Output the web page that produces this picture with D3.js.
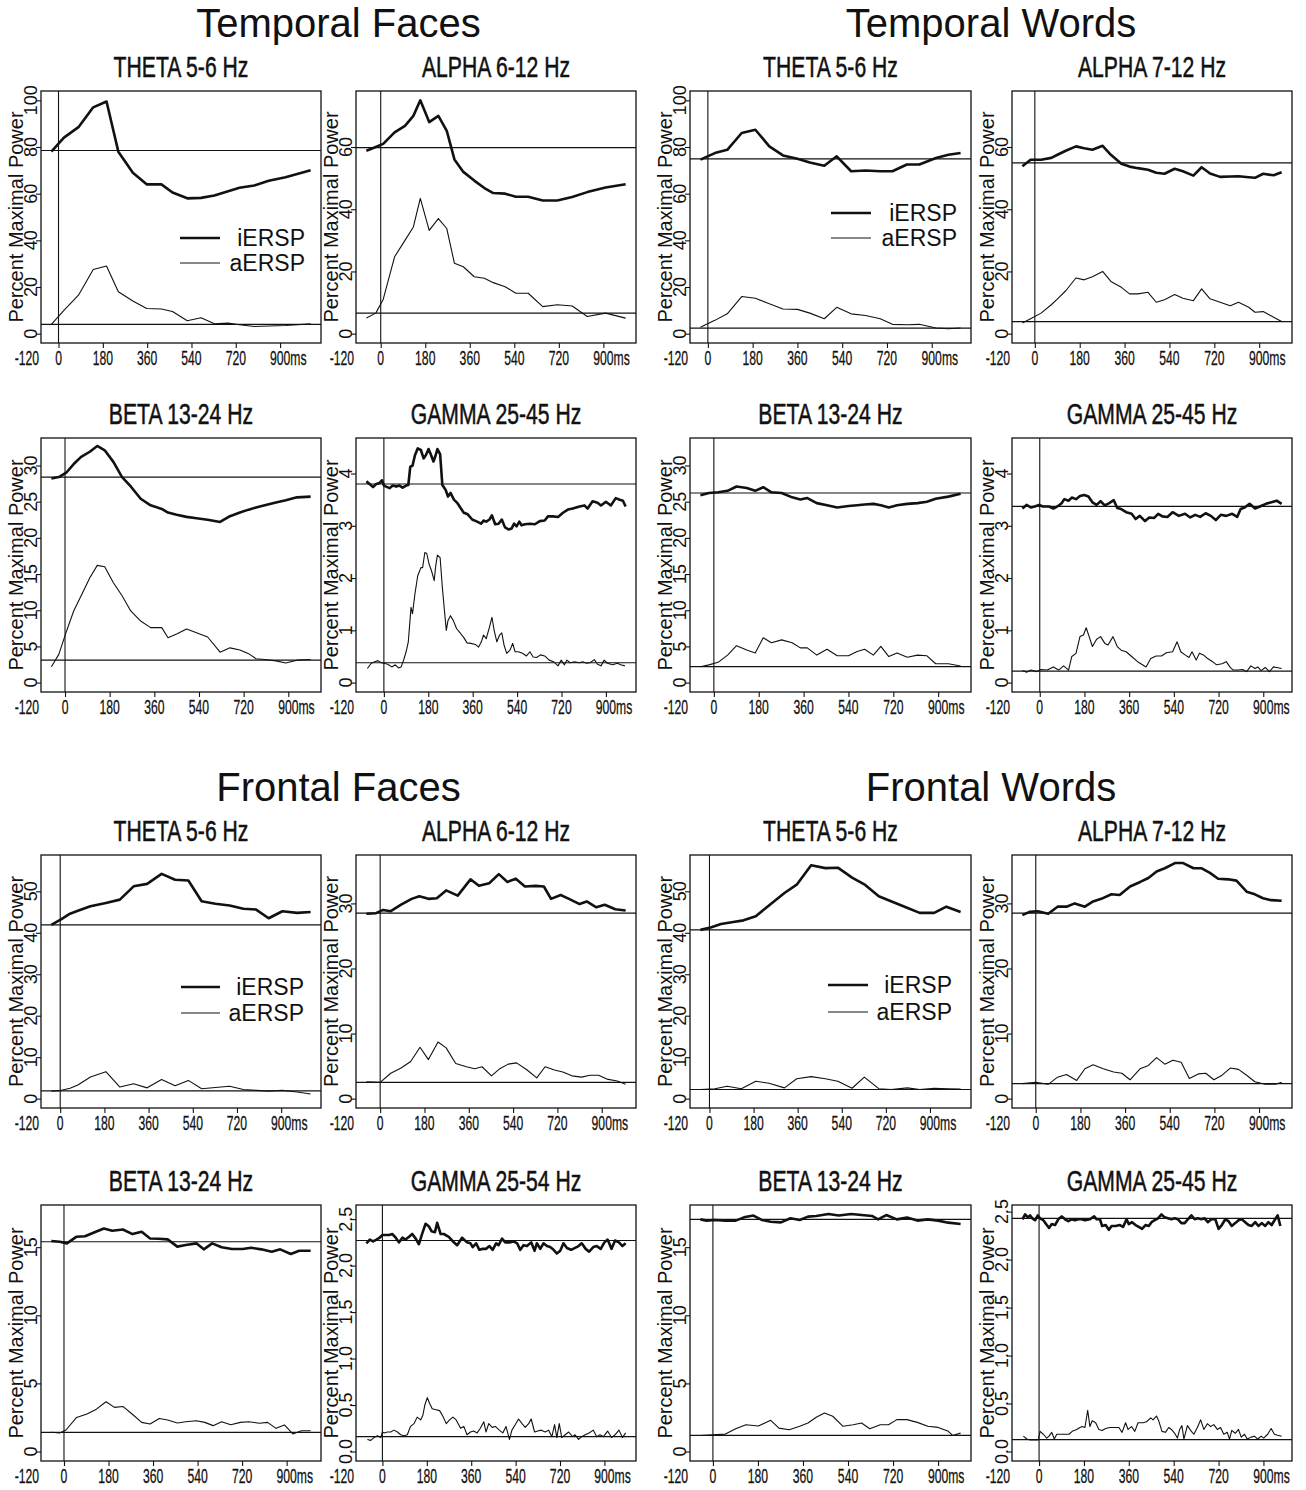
<!DOCTYPE html>
<html lang="en">
<head>
<meta charset="utf-8">
<title>iERSP / aERSP - Temporal and Frontal</title>
<script src="https://cdn.jsdelivr.net/npm/d3@7"></script>
<style>
  body { margin: 0; background: #fff; }
  svg text { font-family: "Liberation Sans", Arial, Helvetica, sans-serif; fill: #111; }
</style>
</head>
<body>
<script>

//Width and height
var w = 1306;
var h = 1490;

//Time axis labels (ms)
var xTickVals = [0, 180, 360, 540, 720, 900];
var xLabelVals = [-120, 0, 180, 360, 540, 720, 900];

//Temporal Faces - THETA
var tfThetaT = [-29, 22, 81, 141, 195, 243, 302, 358, 418, 463, 523, 579, 633, 689, 735, 795, 854, 922, 1024];
var tfThetaI = [78, 84, 88.5, 97, 99.5, 78, 69, 64, 64, 60.5, 58, 58.2, 59.2, 61, 62.5, 63.5, 65.5, 67, 70];
var tfThetaA = [4, 10, 16.5, 27.5, 29, 18, 14, 10.8, 10.6, 9.5, 5.5, 6.8, 4.2, 4.5, 3.8, 3.1, 3.3, 3.5, 4.2];
var tfThetaBase = [78.5, 4];

//Temporal Faces - ALPHA
var tfAlphaT = [-58, -20, 10, 56, 98, 132, 160, 196, 233, 267, 298, 334, 378, 419, 455, 503, 546, 596, 655, 714, 774, 835, 909, 990];
var tfAlphaI = [58.8, 60, 61, 64.7, 66.8, 70, 75, 68, 70, 65.2, 56, 52, 49.2, 46.8, 45.2, 45, 44, 44, 42.8, 42.8, 43.9, 45.5, 47, 48];
var tfAlphaA = [5, 6.6, 11, 24.7, 30, 34.3, 43.5, 33.2, 37, 33.8, 22.6, 21.5, 18.3, 17.8, 16.4, 15.1, 13, 13, 8.7, 9.3, 8.9, 5.5, 6.6, 5];
var tfAlphaBase = [59.8, 6.6];

//Temporal Words - THETA
var twThetaT = [-30, 28, 78, 136, 191, 247, 302, 360, 410, 468, 518, 576, 634, 693, 742, 800, 850, 917, 967, 1016];
var twThetaI = [74.6, 77.4, 78.8, 86, 87.4, 80.3, 76.4, 75, 73.4, 72, 76, 69.6, 69.9, 69.6, 69.6, 72.5, 72.5, 75.3, 76.7, 77.4];
var twThetaA = [2.8, 5.7, 8.5, 15.9, 15.2, 12.8, 10.6, 10.4, 8.8, 6.4, 11.3, 8.5, 7.8, 6.4, 4, 3.8, 4, 2.4, 2.1, 2.4];
var twThetaBase = [74.9, 2.4];

//Temporal Words - ALPHA
var twAlphaT = [-50, -17, 25, 66, 91, 124, 165, 198, 231, 272, 305, 347, 380, 413, 454, 487, 520, 561, 594, 636, 669, 703, 743, 784, 817, 858, 883, 916, 958, 990];
var twAlphaI = [53.8, 55.9, 55.9, 56.5, 57.5, 58.8, 60.2, 59.6, 59.1, 60.4, 57.5, 54.6, 53.7, 53.2, 52.7, 51.7, 51.4, 53, 52.2, 50.8, 53.5, 51.5, 50.4, 50.5, 50.6, 50.3, 50.1, 51.4, 50.9, 51.9];
var twAlphaA = [3.4, 4.8, 6.6, 9.3, 11.2, 13.8, 17.9, 17.3, 18.3, 20, 16.8, 14.9, 12.8, 12.8, 13.3, 10.1, 10.9, 12.6, 11.4, 10.6, 14.4, 11.2, 10.1, 9, 10.1, 8.5, 6.9, 7.1, 5.3, 3.9];
var twAlphaBase = [54.9, 3.9];

//Temporal Faces - BETA
var tfBetaT = [-55, -25, 5, 35, 65, 100, 130, 160, 195, 230, 265, 305, 345, 390, 415, 450, 490, 530, 575, 625, 665, 705, 740, 770, 805, 850, 890, 935, 990];
var tfBetaI = [28.2, 28.4, 29, 30.2, 31.2, 31.9, 32.7, 32.1, 30.5, 28.4, 27.1, 25.4, 24.5, 24, 23.5, 23.2, 22.9, 22.7, 22.5, 22.2, 23, 23.5, 23.9, 24.2, 24.5, 24.9, 25.2, 25.6, 25.7];
var tfBetaA = [2.2, 3.9, 7, 9.9, 12, 14.5, 16.2, 16, 13.8, 12, 9.9, 8.5, 7.6, 7.6, 6.2, 6.7, 7.4, 6.9, 6.3, 4.2, 4.8, 4.5, 4, 3.3, 3.2, 3, 2.7, 3.1, 3.2];
var tfBetaBase = [28.4, 3.1];

//Temporal Faces - GAMMA
var tfGammaIT = [-71,-58,-44,-31,-17,-8,0,9,23,36,50,63,76,90,99,107,116,126,137,150,161,170,181,190,201,210,217,228,237,250,260,270,284,297,311,324,340,358,378,394,404,415,428,438,451,465,478,491,505,518,528,538,549,558,572,592,612,632,652,665,686,706,726,746,766,793,813,826,846,866,880,900,920,940,956,969,980];
var tfGammaI = [3.85,3.80,3.74,3.80,3.82,3.87,3.77,3.75,3.72,3.77,3.75,3.77,3.73,3.77,3.78,4.13,4.15,4.35,4.48,4.45,4.29,4.35,4.47,4.37,4.23,4.35,4.47,4.37,3.78,3.69,3.56,3.63,3.50,3.44,3.34,3.25,3.22,3.12,3.08,3.04,3.10,3.08,3.12,3.20,3.03,3.04,3.12,2.97,2.93,2.95,3.04,2.99,3.08,3.01,3.03,3.04,3.03,3.09,3.10,3.18,3.18,3.17,3.25,3.31,3.33,3.37,3.39,3.33,3.47,3.44,3.39,3.46,3.39,3.53,3.50,3.48,3.37];
var tfGammaAT = [-67,-51,-37,-24,-11,0,16,32,46,59,70,80,90,99,110,116,126,137,150,157,166,174,183,193,204,210,217,228,237,246,253,260,270,281,295,311,324,337,353,371,384,395,404,415,428,438,447,458,469,478,487,498,511,522,532,545,562,578,592,605,619,635,652,670,688,706,719,732,742,755,773,793,806,822,836,853,866,880,893,906,927,947,960,977];
var tfGammaA = [0.27,0.37,0.40,0.42,0.38,0.37,0.35,0.30,0.34,0.28,0.30,0.43,0.59,0.78,1.44,1.32,1.70,2.04,2.20,2.20,2.49,2.47,2.27,2.14,1.95,2.23,2.44,2.39,1.82,1.35,1.0,1.19,1.28,1.19,1.03,0.94,0.86,0.76,0.75,0.73,0.68,0.78,0.91,0.84,1.06,1.25,1.0,0.78,0.91,0.95,0.72,0.56,0.62,0.75,0.59,0.59,0.56,0.51,0.59,0.49,0.48,0.53,0.51,0.43,0.40,0.32,0.43,0.34,0.43,0.38,0.40,0.38,0.40,0.37,0.38,0.44,0.35,0.32,0.43,0.37,0.34,0.37,0.34,0.32];
var tfGammaBase = [3.80, 0.38];

//Temporal Words - BETA
var twBetaT = [-54, -20, 17, 55, 91, 132, 166, 198, 231, 272, 314, 347, 375, 413, 454, 495, 540, 575, 605, 640, 670, 702, 735, 776, 817, 855, 890, 941, 990];
var twBetaI = [25.9, 26.2, 26.3, 26.5, 27.1, 26.9, 26.5, 27, 26.3, 26.2, 25.6, 25.3, 25.5, 24.8, 24.5, 24.2, 24.4, 24.5, 24.6, 24.7, 24.5, 24.2, 24.5, 24.7, 24.8, 25, 25.4, 25.7, 26.1];
var twBetaA = [2.2, 2.45, 2.8, 3.8, 5.1, 4.5, 4.1, 6.2, 5.5, 5.9, 5.5, 4.8, 4.8, 3.8, 4.6, 3.7, 3.7, 4.3, 4.6, 3.8, 5.0, 3.6, 4.1, 3.5, 3.8, 3.7, 2.6, 2.6, 2.3];
var twBetaBase = [26.2, 2.2];

//Temporal Words - GAMMA
var twGammaIT = [-70,-53,-36,-20,-3,13,38,55,71,88,99,116,129,146,162,179,196,212,229,245,262,278,298,312,328,348,370,386,403,424,441,461,477,494,514,535,560,585,606,626,646,668,689,709,729,751,775,795,809,825,845,867,891,911,933,954,974];
var twGammaI = [3.33,3.40,3.35,3.37,3.40,3.37,3.37,3.33,3.37,3.43,3.51,3.48,3.54,3.51,3.57,3.59,3.56,3.45,3.40,3.47,3.39,3.43,3.49,3.34,3.32,3.26,3.23,3.13,3.19,3.09,3.16,3.15,3.23,3.18,3.17,3.26,3.19,3.23,3.16,3.21,3.17,3.24,3.19,3.11,3.21,3.19,3.23,3.17,3.32,3.35,3.42,3.33,3.38,3.42,3.45,3.48,3.42];
var twGammaAT = [-70,-53,-36,-12,5,30,55,76,96,116,129,146,162,176,187,199,212,229,245,262,275,295,312,328,348,370,394,428,447,469,490,510,535,553,568,585,601,613,630,643,659,676,696,712,734,751,767,779,800,817,833,850,867,878,891,908,925,941,954,974];
var twGammaA = [0.23,0.20,0.24,0.21,0.25,0.24,0.30,0.24,0.32,0.24,0.50,0.56,0.88,0.91,1.05,0.88,0.69,0.83,0.88,0.75,0.72,0.88,0.69,0.62,0.59,0.50,0.40,0.30,0.46,0.51,0.51,0.57,0.59,0.78,0.59,0.53,0.48,0.59,0.43,0.56,0.53,0.46,0.40,0.34,0.36,0.40,0.29,0.24,0.24,0.25,0.21,0.32,0.27,0.30,0.23,0.29,0.21,0.30,0.29,0.27];
var twGammaBase = [3.37, 0.22];

//Frontal Faces - THETA
var ffThetaT = [-36, 5, 40, 72, 123, 186, 243, 299, 354, 413, 468, 522, 576, 632, 690, 746, 798, 849, 905, 965, 1020];
var ffThetaI = [41.9, 43.3, 44.6, 45.3, 46.4, 47.2, 48, 51.2, 51.8, 54.2, 52.8, 52.6, 47.6, 47, 46.6, 45.8, 45.6, 43.5, 45.2, 44.8, 45];
var ffThetaA = [1.8, 2, 2.5, 3.3, 5.2, 6.5, 2.8, 3.6, 2.6, 4.6, 3.1, 4.4, 2.4, 2.7, 3, 2.2, 2, 1.8, 2, 1.6, 1.1];
var ffThetaBase = [41.9, 1.85];

//Frontal Faces - ALPHA
var ffAlphaIT = [-56, -17, 12, 43, 85, 128, 159, 196, 230, 268, 315, 367, 401, 443, 482, 517, 551, 588, 631, 665, 694, 733, 767, 810, 839, 878, 912, 955, 997];
var ffAlphaI = [28.4, 28.5, 29, 28.8, 29.8, 30.7, 31.1, 30.7, 30.8, 32, 31.2, 33.7, 32.7, 33.1, 34.5, 33.3, 33.8, 32.6, 32.7, 32.6, 30.7, 31.3, 30.7, 29.9, 30.3, 29.4, 29.8, 29.1, 28.9];
var ffAlphaAT = [-56, 0, 43, 85, 124, 162, 196, 235, 268, 307, 350, 384, 414, 452, 486, 520, 554, 597, 636, 670, 708, 742, 779, 818, 852, 887, 921, 963, 997];
var ffAlphaA = [2.6, 2.5, 3.9, 4.7, 5.7, 7.9, 6, 8.7, 7.8, 5.4, 4.9, 4.6, 4.9, 3.5, 4.6, 5.3, 5.5, 4.4, 3.2, 4.9, 4.4, 4.1, 3.5, 3.3, 3.6, 3.6, 3, 2.7, 2.2];
var ffAlphaBase = [28.5, 2.5];

//Frontal Words - THETA
var fwThetaIT = [-37, 5, 47, 97, 139, 189, 239, 306, 356, 415, 473, 524, 582, 632, 691, 741, 799, 858, 917, 967, 1025];
var fwThetaI = [40.7, 41.3, 42.1, 42.6, 43, 44, 46.4, 49.6, 51.6, 56.3, 55.6, 55.7, 53.3, 51.7, 48.8, 47.6, 46.2, 44.8, 44.8, 46.3, 45];
var fwThetaAT = [-37, 22, 72, 130, 189, 243, 306, 356, 415, 473, 524, 582, 632, 691, 741, 808, 858, 917, 975, 1025];
var fwThetaA = [2.2, 2.4, 3, 2.4, 4.2, 3.7, 2.6, 4.8, 5.3, 4.8, 4.2, 2.5, 5.2, 2.4, 2.2, 2.6, 2.2, 2.5, 2.4, 2.3];
var fwThetaBase = [40.7, 2.2];

//Frontal Words - ALPHA
var fwAlphaIT = [-54, -25, 8, 50, 88, 124, 157, 198, 231, 264, 305, 338, 380, 421, 454, 487, 520, 561, 594, 636, 669, 702, 735, 776, 809, 850, 883, 916, 949, 991];
var fwAlphaI = [28.2, 28.7, 28.8, 28.4, 29.5, 29.5, 30, 29.5, 30.3, 30.7, 31.4, 31.3, 32.6, 33.3, 33.9, 34.9, 35.4, 36.2, 36.2, 35.4, 35.4, 34.7, 33.8, 33.7, 33.5, 31.8, 31.4, 30.8, 30.5, 30.4];
var fwAlphaAT = [-54, 0, 50, 88, 124, 165, 198, 231, 272, 314, 347, 380, 421, 454, 487, 520, 553, 586, 619, 655, 685, 718, 751, 784, 817, 850, 883, 925, 966, 991];
var fwAlphaA = [2.3, 2.5, 2.2, 3.3, 3.7, 2.8, 4.6, 5.2, 4.6, 4.1, 3.9, 2.9, 4.6, 5.1, 6.3, 5.3, 5.9, 5.6, 3.1, 3.8, 3.9, 2.9, 3.6, 4.7, 4.5, 3.6, 2.6, 2.2, 2.2, 2.5];
var fwAlphaBase = [28.5, 2.3];

//Frontal Faces - BETA
var ffBetaIT = [-51, -17, 12, 51, 85, 119, 161, 195, 238, 277, 314, 348, 382, 419, 458, 492, 535, 565, 599, 637, 679, 722, 756, 798, 840, 874, 917, 951, 997];
var ffBetaI = [15.45, 15.4, 15.28, 15.77, 15.8, 16.06, 16.37, 16.2, 16.3, 15.96, 16.13, 15.64, 15.62, 15.57, 15.04, 15.16, 15.28, 14.84, 15.28, 14.99, 14.87, 14.87, 14.96, 14.84, 14.67, 14.84, 14.5, 14.74, 14.74];
var ffBetaAT = [-51, -17, 8, 51, 93, 131, 170, 204, 238, 280, 314, 348, 385, 419, 458, 492, 535, 569, 603, 637, 674, 713, 747, 790, 823, 857, 891, 925, 960, 997];
var ffBetaA = [1.41, 1.36, 1.58, 2.5, 2.75, 3.11, 3.65, 3.24, 3.31, 2.68, 2.14, 2.02, 2.43, 2.31, 2.09, 2.19, 2.26, 2.14, 1.9, 2.19, 1.97, 2.14, 2.19, 2.07, 2.14, 1.7, 1.95, 1.29, 1.53, 1.53];
var ffBetaBase = [15.4, 1.41];

//Frontal Faces - GAMMA
var ffGammaIT = [-65,-51,-38,-24,-11,0,13,27,40,54,67,81,94,108,121,135,148,162,175,189,199,213,222,236,249,269,286,303,323,343,357,366,380,393,407,420,434,447,461,471,485,498,515,532,546,559,572,586,603,617,626,640,653,667,680,694,707,721,734,748,765,781,795,808,824,838,855,869,885,900,913,929,943,959,973,986];
var ffGammaI = [2.24,2.28,2.26,2.28,2.30,2.33,2.33,2.33,2.34,2.30,2.25,2.30,2.28,2.31,2.34,2.29,2.23,2.35,2.45,2.42,2.37,2.36,2.46,2.34,2.34,2.31,2.26,2.22,2.30,2.25,2.24,2.20,2.24,2.17,2.18,2.18,2.21,2.17,2.24,2.22,2.29,2.25,2.25,2.26,2.24,2.17,2.22,2.21,2.25,2.16,2.24,2.18,2.24,2.21,2.20,2.17,2.13,2.16,2.24,2.19,2.17,2.19,2.21,2.24,2.18,2.15,2.20,2.21,2.18,2.25,2.28,2.18,2.27,2.25,2.21,2.24];
var ffGammaAT = [-61,-47,-34,-20,-7,0,7,20,34,47,61,74,88,101,114,128,141,155,164,172,182,191,202,218,232,245,259,272,286,299,317,330,343,357,370,384,397,411,420,431,445,458,474,488,501,515,525,539,552,566,579,593,603,617,630,644,660,674,687,698,707,717,727,741,755,771,781,795,808,822,838,855,869,882,896,913,929,943,959,973,986];
var ffGammaA = [0.13,0.12,0.15,0.17,0.15,0.21,0.20,0.21,0.21,0.23,0.21,0.18,0.17,0.18,0.27,0.30,0.37,0.34,0.39,0.50,0.58,0.52,0.46,0.45,0.44,0.38,0.30,0.34,0.37,0.34,0.25,0.27,0.18,0.21,0.22,0.20,0.25,0.32,0.21,0.30,0.26,0.27,0.23,0.20,0.27,0.13,0.23,0.29,0.35,0.30,0.26,0.30,0.35,0.21,0.22,0.23,0.21,0.23,0.16,0.29,0.15,0.30,0.15,0.18,0.21,0.16,0.18,0.13,0.16,0.18,0.20,0.23,0.16,0.18,0.16,0.22,0.15,0.18,0.23,0.15,0.20];
var ffGammaBase = [2.27, 0.16];

//Frontal Words - BETA
var fwBetaIT = [-50, -25, 8, 50, 91, 124, 162, 195, 231, 272, 310, 347, 380, 413, 462, 503, 553, 594, 636, 660, 693, 735, 776, 817, 859, 900, 941, 990];
var fwBetaI = [17.04, 16.95, 17, 16.95, 16.95, 17.19, 17.32, 17, 16.87, 16.82, 17.12, 17, 17.24, 17.29, 17.44, 17.32, 17.44, 17.36, 17.29, 17.04, 17.36, 17.04, 17.17, 16.95, 17.04, 16.95, 16.8, 16.7];
var fwBetaAT = [-50, 0, 50, 91, 132, 182, 231, 264, 305, 347, 380, 413, 446, 479, 520, 561, 594, 627, 669, 702, 735, 776, 817, 859, 900, 941, 958, 990];
var fwBetaA = [1.18, 1.23, 1.28, 1.67, 1.97, 1.87, 2.29, 1.72, 1.6, 1.85, 2.09, 2.51, 2.83, 2.59, 1.85, 1.97, 2.09, 1.67, 1.97, 1.97, 2.34, 2.34, 2.14, 1.85, 1.77, 1.48, 1.18, 1.35];
var fwBetaBase = [17.04, 1.18];

//Frontal Words - GAMMA
var fwGammaIT = [-67,-56,-45,-36,-27,-16,-5,4,17,31,40,51,64,77,91,104,117,131,144,157,171,184,204,221,231,244,253,267,280,291,307,324,337,351,360,373,387,400,413,427,440,451,464,477,491,504,517,531,544,557,571,584,597,611,624,637,651,664,677,691,707,720,733,747,760,773,787,800,813,827,840,853,867,880,893,907,920,933,947,957,968];
var fwGammaI = [2.42,2.47,2.44,2.46,2.43,2.41,2.46,2.43,2.41,2.36,2.33,2.37,2.36,2.42,2.45,2.42,2.40,2.42,2.41,2.42,2.42,2.41,2.42,2.45,2.42,2.42,2.35,2.36,2.31,2.35,2.35,2.36,2.34,2.42,2.37,2.39,2.36,2.34,2.32,2.36,2.35,2.39,2.41,2.43,2.47,2.44,2.43,2.42,2.43,2.42,2.38,2.38,2.42,2.46,2.42,2.43,2.42,2.43,2.39,2.42,2.42,2.32,2.36,2.42,2.40,2.35,2.38,2.41,2.42,2.39,2.36,2.35,2.39,2.35,2.38,2.35,2.39,2.36,2.42,2.46,2.35];
var fwGammaAT = [-63,-49,-36,-16,-3,4,17,31,40,51,61,71,88,104,120,133,151,164,173,184,195,204,213,227,240,253,267,284,301,320,333,347,357,371,384,397,417,431,448,457,471,480,493,507,520,531,544,555,564,573,581,595,611,621,635,648,661,675,688,701,715,728,741,755,764,773,787,800,811,824,835,851,864,877,891,901,917,931,944,957,973];
var fwGammaA = [0.16,0.13,0.12,0.12,0.12,0.21,0.18,0.14,0.16,0.20,0.13,0.18,0.18,0.18,0.18,0.21,0.23,0.25,0.26,0.25,0.43,0.26,0.32,0.30,0.23,0.22,0.24,0.25,0.25,0.25,0.20,0.30,0.23,0.26,0.21,0.30,0.30,0.31,0.35,0.33,0.37,0.32,0.21,0.20,0.25,0.23,0.19,0.14,0.23,0.27,0.13,0.27,0.21,0.18,0.25,0.33,0.23,0.29,0.26,0.28,0.23,0.25,0.18,0.20,0.13,0.22,0.19,0.23,0.15,0.18,0.13,0.15,0.16,0.13,0.16,0.14,0.18,0.24,0.18,0.17,0.16];
var fwGammaBase = [2.43, 0.124];

//Layout of the 4x4 grid of panels
var colLeft = [41, 356, 690, 1012];
var colWidth = [280, 280, 281, 280];
var rowTop = [91, 438, 855, 1205];
var rowBottom = [343, 692, 1108, 1461];

var groups = [
	{ title: "Temporal Faces", cols: [0, 1], row: 0 },
	{ title: "Temporal Words", cols: [2, 3], row: 0 },
	{ title: "Frontal Faces", cols: [0, 1], row: 2 },
	{ title: "Frontal Words", cols: [2, 3], row: 2 }
];

var panels = [
	{ col: 0, row: 0, title: "THETA 5-6 Hz", iT: tfThetaT, iV: tfThetaI, aT: tfThetaT, aV: tfThetaA, base: tfThetaBase, ylim: [0, 100], ticks: [0, 20, 40, 60, 80, 100], legend: { x1: 139, x2: 179, tx: 264, y1: 147, y2: 172 } },
	{ col: 1, row: 0, title: "ALPHA 6-12 Hz", iT: tfAlphaT, iV: tfAlphaI, aT: tfAlphaT, aV: tfAlphaA, base: tfAlphaBase, ylim: [0, 75], ticks: [0, 20, 40, 60] },
	{ col: 2, row: 0, title: "THETA 5-6 Hz", iT: twThetaT, iV: twThetaI, aT: twThetaT, aV: twThetaA, base: twThetaBase, ylim: [0, 100], ticks: [0, 20, 40, 60, 80, 100], legend: { x1: 141, x2: 181, tx: 267, y1: 122, y2: 147 } },
	{ col: 3, row: 0, title: "ALPHA 7-12 Hz", iT: twAlphaT, iV: twAlphaI, aT: twAlphaT, aV: twAlphaA, base: twAlphaBase, ylim: [0, 75], ticks: [0, 20, 40, 60] },
	{ col: 0, row: 1, title: "BETA 13-24 Hz", iT: tfBetaT, iV: tfBetaI, aT: tfBetaT, aV: tfBetaA, base: tfBetaBase, ylim: [0, 32.5], ticks: [0, 5, 10, 15, 20, 25, 30] },
	{ col: 1, row: 1, title: "GAMMA 25-45 Hz", iT: tfGammaIT, iV: tfGammaI, aT: tfGammaAT, aV: tfGammaA, base: tfGammaBase, ylim: [0, 4.5], ticks: [0, 1, 2, 3, 4] },
	{ col: 2, row: 1, title: "BETA 13-24 Hz", iT: twBetaT, iV: twBetaI, aT: twBetaT, aV: twBetaA, base: twBetaBase, ylim: [0, 32.5], ticks: [0, 5, 10, 15, 20, 25, 30] },
	{ col: 3, row: 1, title: "GAMMA 25-45 Hz", iT: twGammaIT, iV: twGammaI, aT: twGammaAT, aV: twGammaA, base: twGammaBase, ylim: [0, 4.5], ticks: [0, 1, 2, 3, 4] },
	{ col: 0, row: 2, title: "THETA 5-6 Hz", iT: ffThetaT, iV: ffThetaI, aT: ffThetaT, aV: ffThetaA, base: ffThetaBase, ylim: [0, 56.5], ticks: [0, 10, 20, 30, 40, 50], legend: { x1: 140, x2: 179, tx: 263, y1: 132, y2: 158 } },
	{ col: 1, row: 2, title: "ALPHA 6-12 Hz", iT: ffAlphaIT, iV: ffAlphaI, aT: ffAlphaAT, aV: ffAlphaA, base: ffAlphaBase, ylim: [0, 36], ticks: [0, 10, 20, 30] },
	{ col: 2, row: 2, title: "THETA 5-6 Hz", iT: fwThetaIT, iV: fwThetaI, aT: fwThetaAT, aV: fwThetaA, base: fwThetaBase, ylim: [0, 56.5], ticks: [0, 10, 20, 30, 40, 50], legend: { x1: 138, x2: 178, tx: 262, y1: 130, y2: 157 } },
	{ col: 3, row: 2, title: "ALPHA 7-12 Hz", iT: fwAlphaIT, iV: fwAlphaI, aT: fwAlphaAT, aV: fwAlphaA, base: fwAlphaBase, ylim: [0, 36], ticks: [0, 10, 20, 30] },
	{ col: 0, row: 3, title: "BETA 13-24 Hz", iT: ffBetaIT, iV: ffBetaI, aT: ffBetaAT, aV: ffBetaA, base: ffBetaBase, ylim: [0, 17.4], ticks: [0, 5, 10, 15] },
	{ col: 1, row: 3, title: "GAMMA 25-54 Hz", iT: ffGammaIT, iV: ffGammaI, aT: ffGammaAT, aV: ffGammaA, base: ffGammaBase, ylim: [0, 2.55], ticks: [0, 0.5, 1, 1.5, 2, 2.5], fmt: ".1f" },
	{ col: 2, row: 3, title: "BETA 13-24 Hz", iT: fwBetaIT, iV: fwBetaI, aT: fwBetaAT, aV: fwBetaA, base: fwBetaBase, ylim: [0, 17.4], ticks: [0, 5, 10, 15] },
	{ col: 3, row: 3, title: "GAMMA 25-45 Hz", iT: fwGammaIT, iV: fwGammaI, aT: fwGammaAT, aV: fwGammaA, base: fwGammaBase, ylim: [0, 2.47], ticks: [0, 0.5, 1, 1.5, 2, 2.5], fmt: ".1f" }
];

var ink = "#111";

//Create SVG element
var svg = d3.select("body")
			.append("svg")
			.attr("width", w)
			.attr("height", h);

svg.append("rect").attr("width", w).attr("height", h).attr("fill", "#fff");

//Big group titles
groups.forEach(function(gr) {
	var xa = colLeft[gr.cols[0]];
	var xb = colLeft[gr.cols[1]] + colWidth[gr.cols[1]];
	svg.append("text")
		.attr("x", (xa + xb) / 2)
		.attr("y", rowTop[gr.row] - 54)
		.attr("text-anchor", "middle")
		.attr("font-size", 40)
		.text(gr.title);
});

function pairs(T, V) {
	return T.map(function(t, i) { return [t, V[i]]; })
			.filter(function(d) { return d[1] != null; });
}

function drawPanel(p) {
	var x0 = colLeft[p.col], x1 = x0 + colWidth[p.col];
	var y0 = rowTop[p.row], y1 = rowBottom[p.row];

	//R-like 4% padding around the time range and the y limits
	var tExt = d3.extent(p.iT.concat(p.aT));
	var tPad = (tExt[1] - tExt[0]) * 0.04;
	var x = d3.scaleLinear().domain([tExt[0] - tPad, tExt[1] + tPad]).range([x0, x1]);
	var yPad = (p.ylim[1] - p.ylim[0]) * 0.04;
	var y = d3.scaleLinear().domain([p.ylim[0] - yPad, p.ylim[1] + yPad]).range([y1, y0]);

	var g = svg.append("g").style("color", ink);

	//panel title (condensed)
	g.append("g")
		.attr("transform", "translate(" + ((x0 + x1) / 2) + "," + (y0 - 14) + ") scale(0.73,1)")
		.append("text")
		.attr("text-anchor", "middle")
		.attr("font-size", 29)
		.attr("stroke", ink)
		.attr("stroke-width", 0.5)
		.text(p.title);

	//tick marks
	g.append("g")
		.attr("transform", "translate(0," + y1 + ")")
		.call(d3.axisBottom(x).tickValues(xTickVals).tickSize(5).tickFormat(""))
		.call(function(a) { a.select(".domain").remove(); a.selectAll("line").attr("stroke-width", 1.1); });
	g.append("g")
		.attr("transform", "translate(" + x0 + ",0)")
		.call(d3.axisLeft(y).tickValues(p.ticks).tickSize(5).tickFormat(""))
		.call(function(a) { a.select(".domain").remove(); a.selectAll("line").attr("stroke-width", 1.1); });

	//x labels; the -120 label hangs just left of the box
	xLabelVals.forEach(function(v) {
		var lx = v < 0 ? x0 - 2 : x(v);
		var lg = g.append("g")
			.attr("transform", "translate(" + lx + "," + (y1 + 22) + ") scale(0.58,1)");
		var t = lg.append("text")
			.attr("text-anchor", v < 0 ? "end" : "middle")
			.attr("font-size", 21)
			.attr("stroke", ink)
			.attr("stroke-width", 0.3)
			.text(v);
		if (v === 900) {
			lg.append("text")
				.attr("x", t.node().getComputedTextLength() / 2)
				.attr("font-size", 21)
				.attr("stroke", ink)
				.attr("stroke-width", 0.3)
				.text("ms");
		}
	});

	//y labels, rotated
	var fmt = p.fmt ? d3.format(p.fmt) : function(v) { return String(v); };
	p.ticks.forEach(function(v) {
		g.append("text")
			.attr("transform", "translate(" + (x0 - 4) + "," + y(v) + ") rotate(-90)")
			.attr("text-anchor", "middle")
			.attr("font-size", 18)
			.text(fmt(v));
	});
	g.append("text")
		.attr("transform", "translate(" + (x0 - 18) + "," + ((y0 + y1) / 2) + ") rotate(-90)")
		.attr("text-anchor", "middle")
		.attr("font-size", 20)
		.text("Percent Maximal Power");

	//reference lines: stimulus onset and baselines
	g.append("line")
		.attr("x1", x(0)).attr("x2", x(0))
		.attr("y1", y0).attr("y2", y1)
		.attr("stroke", ink).attr("stroke-width", 1.1);
	p.base.forEach(function(b) {
		g.append("line")
			.attr("x1", x0).attr("x2", x1)
			.attr("y1", y(b)).attr("y2", y(b))
			.attr("stroke", ink).attr("stroke-width", 1.2);
	});

	var line = d3.line()
		.x(function(d) { return x(d[0]); })
		.y(function(d) { return y(d[1]); });

	g.append("path")
		.datum(pairs(p.aT, p.aV))
		.attr("d", line)
		.attr("fill", "none")
		.attr("stroke", ink)
		.attr("stroke-width", 1.1)
		.attr("stroke-linejoin", "round");

	g.append("path")
		.datum(pairs(p.iT, p.iV))
		.attr("d", line)
		.attr("fill", "none")
		.attr("stroke", ink)
		.attr("stroke-width", 2.6)
		.attr("stroke-linejoin", "round");

	//box
	g.append("rect")
		.attr("x", x0).attr("y", y0)
		.attr("width", x1 - x0).attr("height", y1 - y0)
		.attr("fill", "none")
		.attr("stroke", ink)
		.attr("stroke-width", 1.3);

	//legend
	if (p.legend) {
		var L = p.legend;
		[["iERSP", L.y1, 2.6], ["aERSP", L.y2, 1.1]].forEach(function(item) {
			g.append("line")
				.attr("x1", x0 + L.x1).attr("x2", x0 + L.x2)
				.attr("y1", y0 + item[1]).attr("y2", y0 + item[1])
				.attr("stroke", ink).attr("stroke-width", item[2]);
			g.append("text")
				.attr("x", x0 + L.tx)
				.attr("y", y0 + item[1] + 8)
				.attr("text-anchor", "end")
				.attr("font-size", 23)
				.text(item[0]);
		});
	}
}

panels.forEach(drawPanel);

</script>
</body>
</html>
